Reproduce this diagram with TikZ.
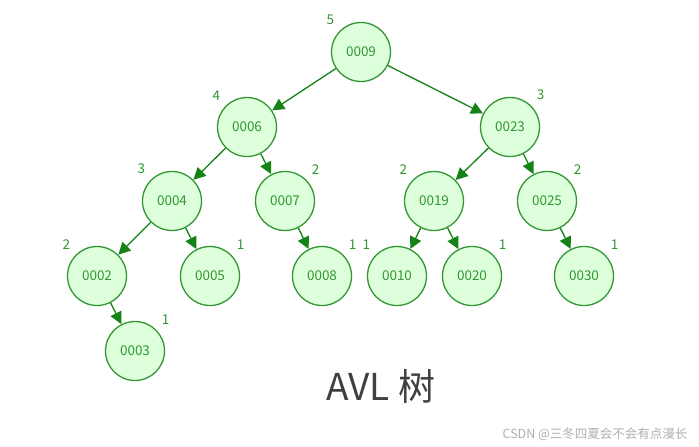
\documentclass[tikz,border=0pt]{standalone}
\usepackage{fontspec}
\setmainfont{Noto Sans CJK SC}
\usetikzlibrary{arrows.meta}
\definecolor{avlgreen}{RGB}{50,150,50}
\definecolor{avlfill}{RGB}{222,255,220}
\definecolor{edgegreen}{RGB}{20,130,20}
\definecolor{titlegray}{RGB}{64,64,64}
\definecolor{markgray}{RGB}{175,175,175}

\tikzset{
    avlnode/.style={circle, draw=avlgreen, fill=avlfill, line width=1.3pt,
        minimum size=59pt, inner sep=0pt, text=avlgreen,
        font=\fontsize{13.5}{15}\selectfont},
    avledge/.style={draw=edgegreen, line width=1.3pt,
        -{Triangle[length=12pt,width=12pt]}},
    hlabel/.style={label distance=3pt, text=avlgreen,
        font=\fontsize{13.5}{15}\selectfont}
}

\begin{document}
\begin{tikzpicture}[x=1pt,y=-1pt]

\fill[white] (0,0) rectangle (699,447);
\useasboundingbox (0,0) rectangle (699,447);

% level 0
\node[avlnode, label={[hlabel]135:5}] (n9) at (361,52) {0009};

% level 1
\node[avlnode, label={[hlabel]135:4}] (n6) at (247,127) {0006};
\node[avlnode, label={[hlabel]45:3}] (n23) at (510,127) {0023};

% level 2
\node[avlnode, label={[hlabel]135:3}] (n4) at (172,201) {0004};
\node[avlnode, label={[hlabel]45:2}] (n7) at (285,201) {0007};
\node[avlnode, label={[hlabel]135:2}] (n19) at (434,201) {0019};
\node[avlnode, label={[hlabel]45:2}] (n25) at (547,201) {0025};

% level 3
\node[avlnode, label={[hlabel]135:2}] (n2) at (97,276) {0002};
\node[avlnode, label={[hlabel]45:1}] (n5) at (210,276) {0005};
\node[avlnode, label={[hlabel]45:1}] (n8) at (322,276) {0008};
\node[avlnode, label={[hlabel]135:1}] (n10) at (397,276) {0010};
\node[avlnode, label={[hlabel]45:1}] (n20) at (472,276) {0020};
\node[avlnode, label={[hlabel]45:1}] (n30) at (584,276) {0030};

% level 4
\node[avlnode, label={[hlabel]45:1}] (n3) at (135,351) {0003};

% edges
\draw[avledge] (n9) -- (n6);
\draw[avledge] (n9) -- (n23);
\draw[avledge] (n6) -- (n4);
\draw[avledge] (n6) -- (n7);
\draw[avledge] (n23) -- (n19);
\draw[avledge] (n23) -- (n25);
\draw[avledge] (n4) -- (n2);
\draw[avledge] (n4) -- (n5);
\draw[avledge] (n7) -- (n8);
\draw[avledge] (n19) -- (n10);
\draw[avledge] (n19) -- (n20);
\draw[avledge] (n25) -- (n30);
\draw[avledge] (n2) -- (n3);

\node[text=titlegray, font=\fontsize{37}{40}\selectfont] (title) at (381,386) {AVL 树};
\node[anchor=east, text=markgray, font=\fontsize{12.5}{14}\selectfont] (mark) at (691,434)
    {CSDN @三冬四夏会不会有点漫长};

\end{tikzpicture}
\end{document}
